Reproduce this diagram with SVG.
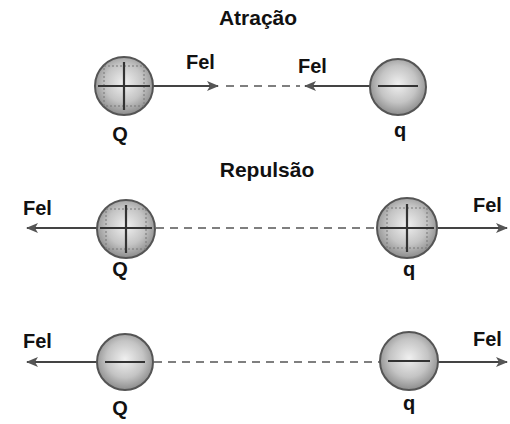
<svg xmlns="http://www.w3.org/2000/svg" width="510" height="424" viewBox="0 0 510 424">
<style>
text{font-family:"Liberation Sans",Arial,sans-serif;font-weight:bold;fill:#111}
.t{font-size:21px}
.f{font-size:20px}
.c{font-size:20px;text-anchor:middle}
.ball{fill:url(#g);stroke:#555;stroke-width:2}
.mark{stroke:#333;stroke-width:2.2;fill:none}
.box{stroke:#777;stroke-width:1;stroke-dasharray:2 2;fill:none}
.arr{stroke:#444;stroke-width:2;fill:none;marker-end:url(#ah)}
.dash{stroke:#555;stroke-width:1.5;stroke-dasharray:8 6;fill:none}
</style>
<defs>
<radialGradient id="g" cx="50%" cy="45%" r="55%">
<stop offset="0" stop-color="#f0f0f0"/>
<stop offset="0.6" stop-color="#c4c4c4"/>
<stop offset="1" stop-color="#8c8c8c"/>
</radialGradient>
<marker id="ah" markerWidth="12" markerHeight="10" refX="11" refY="5" orient="auto" markerUnits="userSpaceOnUse">
<path d="M0,0 L12,5 L0,10 L3,5 Z" fill="#555"/>
</marker>
</defs>
<rect width="510" height="424" fill="#fff"/>
<text class="t" x="258" y="25" text-anchor="middle">Atração</text>
<text class="t" x="267" y="177" text-anchor="middle">Repulsão</text>
<g id="connectors">
<line class="arr" x1="153" y1="86" x2="218" y2="86"/>
<line class="dash" x1="226" y1="86" x2="300" y2="86"/>
<line class="arr" x1="370" y1="86" x2="305" y2="86"/>
<line class="arr" x1="97" y1="228" x2="27" y2="228"/>
<line class="dash" x1="156" y1="228" x2="377" y2="228"/>
<line class="arr" x1="438" y1="228" x2="507" y2="228"/>
<line class="arr" x1="97" y1="362" x2="27" y2="362"/>
<line class="dash" x1="154" y1="362" x2="380" y2="362"/>
<line class="arr" x1="438" y1="362" x2="507" y2="362"/>
</g>
<g id="Q1">
<circle class="ball" cx="124" cy="86" r="29"/>
<rect class="box" x="104" y="66" width="40" height="40"/>
<line class="mark" x1="98" y1="86" x2="150" y2="86"/>
<line class="mark" x1="124" y1="62" x2="124" y2="110"/>
<text class="c" x="120" y="141">Q</text>
<text class="f" x="186" y="69">Fel</text>
</g>
<g id="q1">
<circle class="ball" cx="398" cy="87" r="28"/>
<line class="mark" x1="378" y1="86" x2="418" y2="86"/>
<text class="c" x="400" y="137">q</text>
<text class="f" x="298" y="73">Fel</text>
</g>
<g id="Q2">
<circle class="ball" cx="126" cy="229" r="29"/>
<rect class="box" x="106" y="209" width="40" height="40"/>
<line class="mark" x1="100" y1="228" x2="152" y2="228"/>
<line class="mark" x1="126" y1="205" x2="126" y2="253"/>
<text class="c" x="120" y="276">Q</text>
<text class="f" x="23" y="215">Fel</text>
</g>
<g id="q2">
<circle class="ball" cx="407" cy="228" r="30"/>
<rect class="box" x="387" y="208" width="40" height="40"/>
<line class="mark" x1="380" y1="228" x2="434" y2="228"/>
<line class="mark" x1="407" y1="204" x2="407" y2="252"/>
<text class="c" x="409" y="276">q</text>
<text class="f" x="473" y="212">Fel</text>
</g>
<g id="Q3">
<circle class="ball" cx="125" cy="362" r="28"/>
<line class="mark" x1="105" y1="362" x2="145" y2="362"/>
<text class="c" x="120" y="415">Q</text>
<text class="f" x="23" y="348">Fel</text>
</g>
<g id="q3">
<circle class="ball" cx="409" cy="361" r="29"/>
<line class="mark" x1="388" y1="361" x2="430" y2="361"/>
<text class="c" x="409" y="410">q</text>
<text class="f" x="473" y="346">Fel</text>
</g>
</svg>
